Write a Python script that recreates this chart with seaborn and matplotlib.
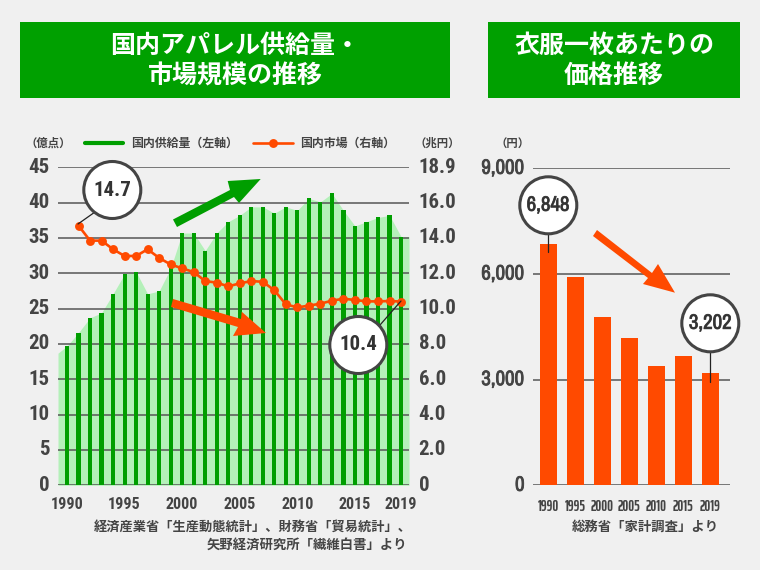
import numpy as np
import pandas as pd
import seaborn as sns
import matplotlib.pyplot as plt
import matplotlib.patheffects as pe
from matplotlib.lines import Line2D
from matplotlib.patches import Circle, Polygon, Rectangle
from matplotlib.transforms import ScaledTranslation

years = list(range(1990, 2020))
# 国内供給量 (億点)
supply = [19.7, 21.6, 23.7, 24.4, 27.1, 29.9, 30.2, 27.1, 27.5, 30.7,
          35.7, 35.7, 33.2, 35.7, 37.3, 38.2, 39.4, 39.4, 38.5, 39.4,
          38.9, 40.6, 40.1, 41.3, 38.9, 36.7, 37.3, 37.9, 38.2, 35.2]
# 国内市場 (兆円) - the line starts one bar in
market = [np.nan, 14.7, 13.85, 13.85, 13.36, 12.98, 12.98, 13.36, 12.87, 12.5,
          12.28, 12.07, 11.56, 11.47, 11.26, 11.43, 11.56, 11.52, 11.04, 10.24,
          10.07, 10.17, 10.28, 10.45, 10.56, 10.49, 10.41, 10.41, 10.43, 10.4]
# light area runs past the first and last bar
area_edge_left = 18.7
area_edge_right = 35.2

left_ticks = [0, 5, 10, 15, 20, 25, 30, 35, 40, 45]
right_ticks = [0, 2, 4, 6, 8, 10, 12, 14, 16, 18]
right_labels = ['0', '2.0', '4.0', '6.0', '8.0', '10.0', '12.0', '14.0', '16.0', '18.9']
year_ticks = [1990, 1995, 2000, 2005, 2010, 2015, 2019]

price_years = ['1990', '1995', '2000', '2005', '2010', '2015', '2019']
price = [6848, 5914, 4778, 4173, 3387, 3680, 3202]
price_ticks = [0, 3000, 6000, 9000]

BG = '#f0f0f0'
GREEN = '#009e00'
HEAD = '#00a000'
LIGHT = '#b4f0b9'
ORANGE = '#ff4a00'
TEXT = '#444444'
GRID = '#555555'
# condensed faces first, the listed fonts as fallback
COND = ['Roboto Condensed', 'Liberation Sans', 'DejaVu Sans']
NARROW = ['Archivo Narrow', 'Saira SemiCondensed', 'Liberation Sans', 'DejaVu Sans']
XNARROW = ['Saira ExtraCondensed', 'Liberation Sans', 'DejaVu Sans']
THICKEN = [pe.withStroke(linewidth=0.6, foreground=TEXT)]

sns.set_theme(style='white')
plt.rcParams['font.family'] = ['Noto Sans CJK JP', 'DejaVu Sans']
plt.rcParams['figure.facecolor'] = BG
plt.rcParams['axes.facecolor'] = BG

W, H = 760, 570
fig = plt.figure(figsize=(W / 100, H / 100), dpi=100)
up_2px = ScaledTranslation(0, 2 / 100, fig.dpi_scale_trans)


def box(x0, y0, x1, y1):
    return [x0 / W, 1 - y1 / H, (x1 - x0) / W, (y1 - y0) / H]


def style_ticks(labels, family, size, raise_it=False, thick=False):
    for t in labels:
        t.set_fontfamily(family)
        t.set_fontweight('bold')
        t.set_fontsize(size)
        t.set_color(TEXT)
        if raise_it:
            t.set_transform(t.get_transform() + up_2px)
        if thick:
            t.set_path_effects(THICKEN)


# left chart
ax = fig.add_axes(box(58, 167.3, 409, 485.3))
df = pd.DataFrame({'year': years, 'supply': supply, 'market': market})
sns.barplot(data=df, x='year', y='supply', color=GREEN, saturation=1, width=0.36, linewidth=0, ax=ax)
xmin, xmax = -0.78, 29.69
ax.fill_between([xmin] + list(df.index) + [xmax], [area_edge_left] + supply + [area_edge_right],
                color=LIGHT, lw=0, zorder=0.2)
ax.set_xlim(xmin, xmax)
ax.set_ylim(0, 45)
ax.set_yticks(left_ticks)
ax.set_xticks([years.index(y) for y in year_ticks])
ax.set_xticklabels(year_ticks)
ax.set_xlabel('')
ax.set_ylabel('')
ax.yaxis.grid(True, color=GRID, lw=1.1)
ax.set_axisbelow(True)
sns.despine(ax=ax, left=True, bottom=True)
ax.tick_params(axis='y', length=0, pad=6)
ax.tick_params(axis='x', length=0, pad=8.5)

ax2 = ax.twinx()
sns.lineplot(x=df.index, y=df['market'], color=ORANGE, lw=1.9, marker='o', markersize=6.4,
             markeredgewidth=0, ax=ax2)
ax2.set_xlim(xmin, xmax)
ax2.set_ylim(0, 18)
ax2.set_yticks(right_ticks)
ax2.set_yticklabels(right_labels)
ax2.set_ylabel('')
ax2.patch.set_visible(False)
sns.despine(ax=ax2, left=True, bottom=True, right=True)
ax2.tick_params(axis='y', length=0, pad=7)

# right chart
ax3 = fig.add_axes(box(533, 168.3, 730, 485.3))
sns.barplot(x=price_years, y=price, color=ORANGE, saturation=1, width=0.63, linewidth=0, ax=ax3)
ax3.set_xlim(-0.567, 6.73)
ax3.set_ylim(0, 9000)
ax3.set_yticks(price_ticks)
ax3.set_yticklabels([f'{v:,}' for v in price_ticks])
ax3.yaxis.grid(True, color=GRID, lw=1.1)
ax3.set_axisbelow(True)
sns.despine(ax=ax3, left=True, bottom=True)
ax3.tick_params(axis='y', length=0, pad=6)
ax3.tick_params(axis='x', length=0, pad=10.5)

style_ticks(ax.get_yticklabels(), COND, 15, raise_it=True)
style_ticks(ax.get_xticklabels(), COND, 11.5)
style_ticks(ax2.get_yticklabels(), COND, 15, raise_it=True)
style_ticks(ax3.get_yticklabels(), NARROW, 15, raise_it=True, thick=True)
style_ticks(ax3.get_xticklabels(), XNARROW, 10.5)

# everything else is placed in pixels on a full-figure overlay
ov = fig.add_axes([0, 0, 1, 1], zorder=10)
ov.set_xlim(0, W)
ov.set_ylim(H, 0)
ov.axis('off')
ov.patch.set_visible(False)


def header(x0, x1, lines):
    ov.add_patch(Rectangle((x0, 22), x1 - x0, 76, color=HEAD, lw=0))
    for y, s in zip([46, 76], lines):
        ov.text((x0 + x1) / 2, y, s, color='white', fontsize=18, fontweight='bold',
                ha='center', va='center')


header(20, 450, ['国内アパレル供給量・', '市場規模の推移'])
header(488, 740, ['衣服一枚あたりの', '価格推移'])

# units and legend
for x, s in [(48, '（億点）'), (437.5, '（兆円）'), (513, '（円）')]:
    ov.text(x, 143, s, color=TEXT, fontsize=8.2, fontweight='bold', ha='center', va='center')
ov.add_line(Line2D([85, 123], [143, 143], color=GREEN, lw=3))
ov.text(131, 143, '国内供給量（左軸）', color=TEXT, fontsize=8.6, fontweight='bold', va='center')
ov.add_line(Line2D([253, 293], [143, 143], color=ORANGE, lw=1.9))
ov.add_line(Line2D([273], [143], color=ORANGE, marker='o', markersize=6.4, markeredgewidth=0))
ov.text(300, 143, '国内市場（右軸）', color=TEXT, fontsize=8.6, fontweight='bold', va='center')


def arrow(points, color):
    ov.add_patch(Polygon(points, closed=True, color=color, lw=0))


arrow([(173, 219.5), (230, 190), (227.7, 181), (260.7, 179), (239, 203), (234, 197), (177, 227)], GREEN)
arrow([(173, 299), (241, 319), (241.7, 311.7), (266, 333), (233, 336), (238, 327), (171, 307)], ORANGE)
arrow([(597, 230), (652, 273), (658, 264), (675, 292.7), (643, 284), (648, 278), (593, 236)], ORANGE)


def callout(cx, cy, s, x1, y1, x2, y2, family, size, effects=None):
    ov.add_line(Line2D([x1, x2], [y1, y2], color='#222222', lw=0.9))
    ov.add_patch(Circle((cx, cy), 28.5, facecolor='white', edgecolor='#444444', lw=2.2, zorder=4))
    ov.text(cx, cy, s, color='#333333', fontsize=size, fontfamily=family, fontweight='bold',
            ha='center', va='center', zorder=5, path_effects=effects)


callout(112.3, 190, '14.7', 78, 224, 95, 212, COND, 15)
callout(358.3, 345, '10.4', 401, 301, 380, 325, COND, 15)
callout(548.3, 205.3, '6,848', 548.3, 252, 548.3, 230, NARROW, 15, THICKEN)
callout(710.3, 323.3, '3,202', 710.3, 381.7, 710.3, 350, NARROW, 15, THICKEN)

# sources
ov.text(412, 527, '経済産業省「生産動態統計」、財務省「貿易統計」、', color=TEXT, fontsize=9.5,
        fontweight='bold', ha='right', va='center')
ov.text(407, 545, '矢野経済研究所「繊維白書」より', color=TEXT, fontsize=9.6,
        fontweight='bold', ha='right', va='center')
ov.text(719, 527, '総務省「家計調査」より', color=TEXT, fontsize=9.6,
        fontweight='bold', ha='right', va='center')

fig.savefig('out.png', dpi=100, facecolor=BG)
